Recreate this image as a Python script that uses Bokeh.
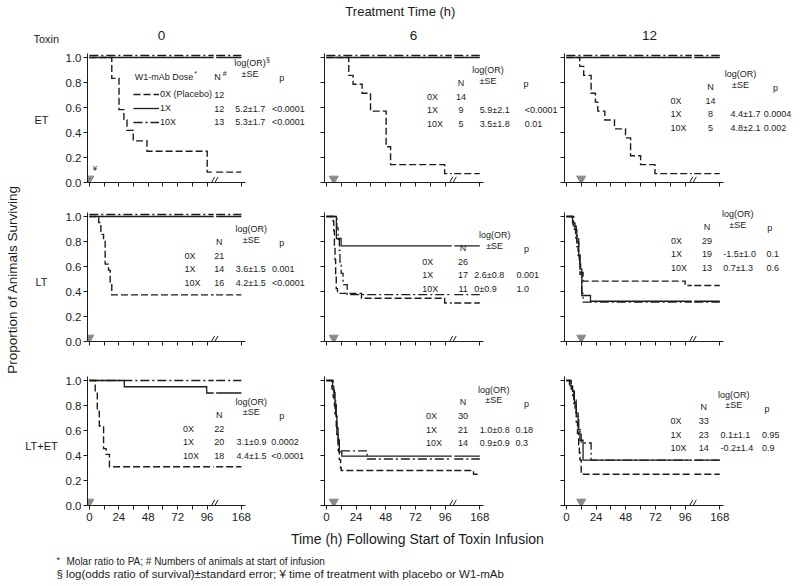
import math
from bokeh.plotting import figure
from bokeh.layouts import row, column
from bokeh.models import (Range1d, FixedTicker, PrintfTickFormatter, Label,
                          Legend, LegendItem)
from bokeh.core.properties import value
from bokeh.embed import file_html
from bokeh.resources import INLINE

# ---------------------------------------------------------------- data
toxins = ["ET", "LT", "LT+ET"]
treat_times = [0, 6, 12]
doses = ["0X", "1X", "10X"]
dose_legend = ["0X (Placebo)", "1X", "10X"]
x_tick_hours = [0, 12, 24, 36, 48, 60, 72, 84, 96, 168]
x_tick_labels = ["0", "", "24", "", "48", "", "72", "", "96", "168"]
y_ticks = [0.0, 0.2, 0.4, 0.6, 0.8, 1.0]

# survival curves: (hour of event, survival fraction after event)
et_0_0x = [(0, 1.0), (18.3, 0.833), (24.2, 0.583), (28.2, 0.5), (30.7, 0.417),
           (35.8, 0.333), (47, 0.25), (96.3, 0.083)]
et_0_1x = [(0, 1.0)]
et_0_10x = [(0, 1.0)]
et_6_0x = [(0, 1.0), (18.1, 0.857), (21.6, 0.786), (28.9, 0.714), (35.7, 0.571),
           (48.3, 0.286), (51.9, 0.143), (95.6, 0.071)]
et_6_1x = [(0, 1.0)]
et_6_10x = [(0, 1.0)]
et_12_0x = [(0, 1.0), (10.8, 0.929), (14, 0.857), (20, 0.714), (23.5, 0.643),
            (25.4, 0.571), (31.1, 0.5), (38.9, 0.429), (47.8, 0.357),
            (51.9, 0.214), (60, 0.143), (71.6, 0.071)]
et_12_1x = [(0, 1.0)]
et_12_10x = [(0, 1.0)]
lt_0_0x = [(0, 1.0), (7.6, 0.952), (9.4, 0.857), (11.6, 0.81), (12.9, 0.619),
           (15.6, 0.571), (17, 0.476), (18.3, 0.373)]
lt_0_1x = [(0, 1.0)]
lt_0_10x = [(0, 1.0)]
lt_6_0x = [(0, 1.0), (5.5, 0.962), (6, 0.885), (6.5, 0.769), (7, 0.654),
           (7.5, 0.538), (8, 0.423), (9, 0.385), (28.4, 0.346), (95.6, 0.308)]
lt_6_1x = [(0, 1.0), (8.1, 0.824), (11.9, 0.765)]
lt_6_10x = [(0, 1.0), (8.5, 0.909), (9.5, 0.818), (10.5, 0.727), (11, 0.636),
            (12, 0.545), (13.5, 0.455), (16.8, 0.375)]
lt_12_0x = [(0, 1.0), (4.5, 0.966), (5.5, 0.931), (6.5, 0.897), (7.5, 0.828),
            (8.5, 0.759), (9.5, 0.69), (10.5, 0.621), (11.5, 0.552),
            (13.5, 0.483), (96, 0.448)]
lt_12_1x = [(0, 1.0), (5, 0.947), (7, 0.895), (8.5, 0.789), (10, 0.684),
            (11, 0.579), (12.5, 0.368), (19.5, 0.322)]
lt_12_10x = [(0, 1.0), (6, 0.923), (8, 0.846), (10, 0.692), (11, 0.538),
             (12.5, 0.385), (13.5, 0.315)]
ltet_0_0x = [(0, 1.0), (4.8, 0.909), (6.5, 0.773), (8.1, 0.636), (11.6, 0.455),
             (13.7, 0.409), (16.4, 0.31)]
ltet_0_1x = [(0, 1.0), (28.5, 0.95), (95.7, 0.9)]
ltet_0_10x = [(0, 1.0)]
ltet_6_0x = [(0, 1.0), (4.5, 0.933), (5.5, 0.867), (6.5, 0.8), (7, 0.733),
             (8, 0.633), (8.5, 0.567), (9.5, 0.5), (10, 0.433), (10.5, 0.367),
             (11.5, 0.3), (12, 0.28), (155, 0.25)]
ltet_6_1x = [(0, 1.0), (5, 0.952), (6, 0.905), (7, 0.81), (8, 0.714),
             (8.5, 0.619), (9.5, 0.524), (10.5, 0.429), (12.5, 0.395)]
ltet_6_10x = [(0, 1.0), (5.5, 0.929), (6.5, 0.857), (7.5, 0.714), (8.5, 0.571),
              (9.5, 0.437), (33, 0.372)]
ltet_12_0x = [(0, 1.0), (2.5, 0.97), (4, 0.939), (5, 0.879), (6, 0.818),
              (7, 0.758), (8, 0.667), (9, 0.576), (10, 0.485), (10.5, 0.424),
              (11, 0.364), (12, 0.25)]
ltet_12_1x = [(0, 1.0), (3, 0.957), (5, 0.913), (6.5, 0.826), (8, 0.739),
              (9.5, 0.609), (11, 0.522), (13.5, 0.363)]
ltet_12_10x = [(0, 1.0), (4, 0.929), (6, 0.857), (8, 0.714), (10, 0.571),
               (12, 0.5), (20, 0.363)]

n_animals = [[[12, 12, 13], [14, 9, 5], [14, 8, 5]],
             [[21, 14, 16], [26, 17, 11], [29, 19, 13]],
             [[22, 20, 18], [30, 21, 14], [33, 23, 14]]]
log_or = [[["", "5.2\u00b11.7", "5.3\u00b11.7"], ["", "5.9\u00b12.1", "3.5\u00b11.8"], ["", "4.4\u00b11.7", "4.8\u00b12.1"]],
          [["", "3.6\u00b11.5", "4.2\u00b11.5"], ["", "2.6\u00b10.8", "0\u00b10.9"], ["", "-1.5\u00b11.0", "0.7\u00b11.3"]],
          [["", "3.1\u00b10.9", "4.4\u00b11.5"], ["", "1.0\u00b10.8", "0.9\u00b10.9"], ["", "0.1\u00b11.1", "-0.2\u00b11.4"]]]
p_values = [[["", "<0.0001", "<0.0001"], ["", "<0.0001", "0.01"], ["", "0.0004", "0.002"]],
            [["", "0.001", "<0.0001"], ["", "0.001", "1.0"], ["", "0.1", "0.6"]],
            [["", "0.0002", "<0.0001"], ["", "0.18", "0.3"], ["", "0.95", "0.9"]]]

curves = [[[et_0_0x, et_0_1x, et_0_10x], [et_6_0x, et_6_1x, et_6_10x], [et_12_0x, et_12_1x, et_12_10x]],
          [[lt_0_0x, lt_0_1x, lt_0_10x], [lt_6_0x, lt_6_1x, lt_6_10x], [lt_12_0x, lt_12_1x, lt_12_10x]],
          [[ltet_0_0x, ltet_0_1x, ltet_0_10x], [ltet_6_0x, ltet_6_1x, ltet_6_10x], [ltet_12_0x, ltet_12_1x, ltet_12_10x]]]

# ---------------------------------------------------------------- layout / style
FONT = "Liberation Sans"
INK = "#1c1c1c"
END_HOUR = 168
BREAK_AT = 96          # axis is compressed after 96 h
BREAK_SCALE = 28 / 72  # 96..168 h drawn in 28 units
GAP = (101.4, 103.4)   # gap in the lines at the axis break (compressed units)
X0, X_AXIS_END = -1.5, 127.0
Y_AXIS_END = 1.032
PX_PER_UNIT = 159 / (X_AXIS_END - X0)
PX_PER_Y = 125.0

col_w = [248, 249, 239]
col_l = [23, 14, 5]
row_h = [150, 159, 175]
row_b = [15, 15, 26]

dose_style = [dict(line_dash="7 3", line_width=1.4),
              dict(line_dash="solid", line_width=1.3),
              dict(line_dash="9 3 2 3", line_width=1.3)]

# table positions per panel (compressed-hour units): dose, N centre, OR left, p left,
# OR header centre, p header centre, y of first row
table_pos = [[(None, 106, 119, 149, 131, 157, 0.70), (81.4, 108.8, 124, 160.3, 130.6, 161.4, 0.686), (84.1, 116.5, 132.6, 159.5, 140.7, 169, 0.654)],
             [(77.6, 105.9, 119.4, 149, 132, 157, 0.686), (77.4, 110.5, 119.6, 153.6, 136, 161.7, 0.638), (84.6, 113.7, 126.7, 161.7, 138.5, 164.4, 0.806)],
             [(76.3, 105.9, 120, 148.3, 132, 157, 0.615), (80.6, 110.5, 124, 152.8, 135.3, 161.7, 0.716), (84.1, 111, 124.5, 158.2, 135.3, 162.2, 0.676)]]
ROW_DY = 0.109
ANN = "9px"


def comp(t):
    return t if t <= BREAK_AT else BREAK_AT + (t - BREAK_AT) * BREAK_SCALE


def stairs(points, lift=0.0):
    xs, ys = [], []
    prev = None
    for t, s in points:
        if prev is None:
            xs.append(comp(t)); ys.append(s)
        else:
            xs += [comp(t), comp(t)]; ys += [prev, s]
        prev = s
    xs.append(comp(END_HOUR)); ys.append(prev)
    ox, oy = [xs[0]], [ys[0]]
    for i in range(1, len(xs)):
        x0, y0, x1, y1 = xs[i - 1], ys[i - 1], xs[i], ys[i]
        if x0 < GAP[0] and x1 > GAP[1] and y0 == y1:
            ox += [GAP[0], float("nan"), GAP[1]]
            oy += [y0, float("nan"), y0]
        ox.append(x1); oy.append(y1)
    oy = [y + lift for y in oy]
    return ox, oy


def lab(p, x, y, text, size=ANN, align="left", baseline="middle"):
    p.add_layout(Label(x=x, y=y, text=text, x_units="data", y_units="data",
                       text_font=FONT, text_font_size=size, text_color=INK,
                       text_align=align, text_baseline=baseline))


def panel(r, c):
    frame_w = col_w[c] - col_l[c]
    frame_h = row_h[r] - row_b[r]
    p = figure(width=col_w[c], height=row_h[r],
               x_range=Range1d(X0, X0 + frame_w / PX_PER_UNIT),
               y_range=Range1d(0, frame_h / PX_PER_Y),
               min_border_left=col_l[c], min_border_right=0,
               min_border_top=0, min_border_bottom=row_b[r],
               toolbar_location=None, output_backend="svg")
    p.xgrid.visible = False
    p.ygrid.visible = False
    p.outline_line_color = None

    for ax in (p.xaxis[0], p.yaxis[0]):
        ax.axis_line_color = INK
        ax.axis_line_width = 1
        ax.major_tick_line_color = INK
        ax.major_tick_in = 0
        ax.major_tick_out = 4
        ax.minor_tick_line_color = None
        ax.major_label_text_font = FONT
        ax.major_label_text_color = INK
        ax.major_label_text_font_size = "11.5px"

    xt = [comp(h) for h in x_tick_hours]
    p.xaxis.bounds = (X0, X_AXIS_END)
    p.xaxis.ticker = FixedTicker(ticks=xt)
    p.xaxis.major_label_standoff = 3
    if r == 2:
        p.xaxis.major_label_overrides = {t: l for t, l in zip(xt, x_tick_labels)}
    else:
        p.xaxis.major_label_overrides = {t: "" for t in xt}
        p.xaxis.major_label_text_font_size = "0px"
        p.xaxis.major_label_standoff = 0

    p.yaxis.bounds = (0, Y_AXIS_END)
    p.yaxis.ticker = FixedTicker(ticks=y_ticks)
    if c == 0:
        p.yaxis.formatter = PrintfTickFormatter(format="%.1f")
        p.yaxis.major_label_standoff = 2
    else:
        p.yaxis.major_label_overrides = {t: "" for t in y_ticks}
        p.yaxis.major_label_text_font_size = "0px"
        p.yaxis.major_label_standoff = 0

    cs = curves[r][c]
    flat_top = len(cs[1]) == 1 and len(cs[2]) == 1
    rends = []
    for k in range(3):
        lift = 0.016 if (k == 2 and flat_top) else 0.0
        xs, ys = stairs(cs[k], lift)
        rr = p.line(xs, ys, line_color=INK, line_join="miter", **dose_style[k])
        rends.append(rr)

    # treatment marker
    p.scatter([comp(treat_times[c])], [0.03], marker="inverted_triangle", size=9,
              fill_color="#8a8a8a", line_color="#8a8a8a")
    # axis-break marks
    p.segment(x0=[99.6, 102.4], y0=[0.0, 0.0], x1=[102.2, 105.0], y1=[0.045, 0.045],
              line_color=INK, line_width=1)

    dose_x, n_x, or_x, p_x, or_h, p_h, y0 = table_pos[r][c]
    ys = [y0 - i * ROW_DY for i in range(3)]
    if dose_x is None:
        legend = Legend(items=[LegendItem(label=dose_legend[k], renderers=[rends[k]]) for k in range(3)],
                        location=(46, 54), glyph_width=26, glyph_height=12,
                        label_height=12, spacing=2, padding=0, margin=0,
                        label_standoff=1, background_fill_alpha=0,
                        border_line_color=None, label_text_font=FONT,
                        label_text_font_size=ANN, label_text_color=INK)
        p.add_layout(legend)
        lab(p, 37, y0 + 0.145, "W1-mAb Dose")
        lab(p, 85.5, y0 + 0.172, "*", size="7px")
        lab(p, n_x - 1.5, y0 + 0.145, "N", align="center")
        lab(p, n_x + 2.8, y0 + 0.172, "#", size="7px")
        lab(p, or_h, y0 + 0.255, "log(OR)", align="center")
        lab(p, or_h + 13, y0 + 0.283, "\u00a7", size="7px")
        lab(p, or_h, y0 + 0.172, "\u00b1SE", align="center")
        lab(p, p_h, y0 + 0.14, "p", align="center")
        lab(p, 4.6, 0.11, "\u00a5", size="8px", align="center")
    else:
        for k in range(3):
            lab(p, dose_x, ys[k], doses[k])
        lab(p, n_x, y0 + 0.11, "N", align="center")
        lab(p, or_h, y0 + 0.212, "log(OR)", align="center")
        lab(p, or_h, y0 + 0.13, "\u00b1SE", align="center")
        lab(p, p_h, y0 + 0.10, "p", align="center")
    for k in range(3):
        lab(p, n_x, ys[k], str(n_animals[r][c][k]), align="center")
        if log_or[r][c][k]:
            lab(p, or_x, ys[k], log_or[r][c][k])
            lab(p, p_x, ys[k], p_values[r][c][k])
    return p


def text_fig(w, h, xr, yr):
    f = figure(width=w, height=h, x_range=Range1d(*xr), y_range=Range1d(*yr),
               x_axis_type=None, y_axis_type=None, min_border=0,
               toolbar_location=None, output_backend="svg")
    f.xgrid.visible = False
    f.ygrid.visible = False
    f.outline_line_color = None
    return f


def txt(f, x, y, s, size, align="left", angle=0.0):
    f.text(x=[x], y=[y], text=[s], angle=angle, text_font=value(FONT),
           text_font_size=size, text_color=INK, text_align=align,
           text_baseline="middle")


# left strip (page coordinates): y label, "Toxin", row labels
left = text_fig(62, 531, (0, 62), (531, 0))
txt(left, 12, 279, "Proportion of Animals Surviving", "13.5px", "center", angle=math.pi / 2)
txt(left, 33, 38, "Toxin", "11px")
for yc, tox in zip([119, 281, 445], toxins):
    txt(left, 41, yc, tox, "11px", "center")

# header (page coordinates)
header = text_fig(736, 47, (62, 798), (47, 0))
txt(header, 400, 11, "Treatment Time (h)", "13px", "center")
for x_c, t in zip([161, 413, 649], treat_times):
    txt(header, x_c, 35, str(t), "13.5px", "center")

# footer (page coordinates)
footer = text_fig(798, 53, (0, 798), (584, 531))
txt(footer, 417, 538, "Time (h) Following Start of Toxin Infusion", "14px", "center")
txt(footer, 56, 559, "*", "9px")
txt(footer, 66, 561, "Molar ratio to PA; # Numbers of animals at start of infusion", "10px")
txt(footer, 56, 573, "\u00a7 log(odds ratio of survival)\u00b1standard error; \u00a5 time of treatment with placebo or W1-mAb", "11.5px")

grid_rows = [row(*[panel(r, c) for c in range(3)]) for r in range(3)]
layout = column(row(left, column(header, *grid_rows)), footer)

open("out.html", "w").write(file_html(layout, INLINE))
